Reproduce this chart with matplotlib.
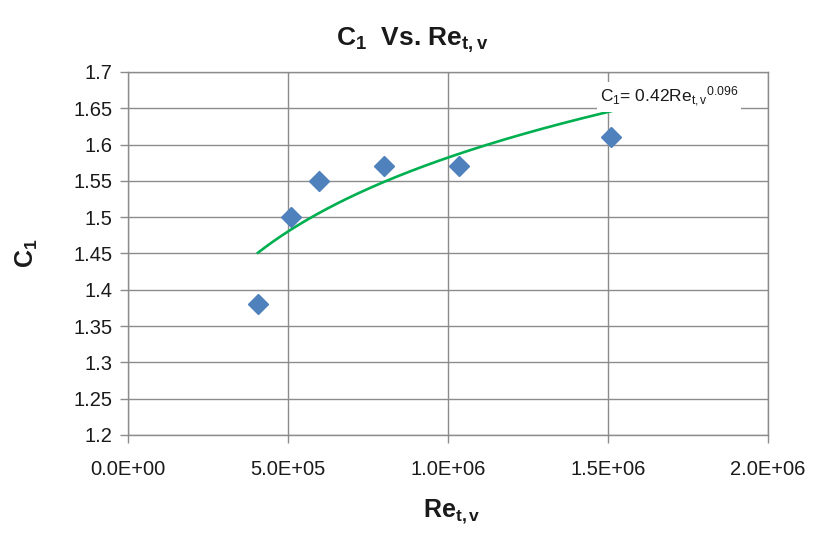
import numpy as np
import matplotlib
matplotlib.use("Agg")
import matplotlib.pyplot as plt

re_tv = [4.06e5, 5.1e5, 5.97e5, 8.0e5, 1.034e6, 1.51e6]
c1 = [1.38, 1.50, 1.55, 1.57, 1.57, 1.61]
x_ticks = [0, 5e5, 1e6, 1.5e6, 2e6]
x_tick_labels = ["0.0E+00", "5.0E+05", "1.0E+06", "1.5E+06", "2.0E+06"]
y_ticks = [1.2, 1.25, 1.3, 1.35, 1.4, 1.45, 1.5, 1.55, 1.6, 1.65, 1.7]
y_tick_labels = ["1.2", "1.25", "1.3", "1.35", "1.4", "1.45", "1.5", "1.55", "1.6", "1.65", "1.7"]
trend_a = 0.42
trend_b = 0.096

plt.rcParams['font.family'] = ['Liberation Sans', 'DejaVu Sans']
plt.rcParams['mathtext.fontset'] = 'custom'
plt.rcParams['mathtext.rm'] = 'Liberation Sans'
plt.rcParams['mathtext.it'] = 'Liberation Sans'
plt.rcParams['mathtext.bf'] = 'Liberation Sans:bold'

fig = plt.figure(figsize=(8.18, 5.37), dpi=100)
ax = fig.add_axes([128/818, 1-435/537, 640/818, 363/537])

grid_c = '#8c8c8c'
ax.set_xlim(0, 2e6)
ax.set_ylim(1.2, 1.7)
ax.set_xticks(x_ticks)
ax.set_xticklabels(x_tick_labels)
ax.set_yticks(y_ticks)
ax.set_yticklabels(y_tick_labels)
ax.grid(True, color=grid_c, linewidth=1.0)
ax.set_axisbelow(True)
for s in ax.spines.values():
    s.set_color(grid_c)
    s.set_linewidth(1.0)
ax.tick_params(axis='both', colors=grid_c, labelcolor='#1a1a1a', labelsize=14.5,
               length=6, width=1.0, direction='out')
ax.tick_params(axis='x', pad=12)
ax.tick_params(axis='y', pad=5)

xs = np.linspace(min(re_tv), max(re_tv), 200)
ax.plot(xs, trend_a * xs ** trend_b, color='#00B050', linewidth=1.9, zorder=3)
ax.plot(re_tv, c1, linestyle='none', marker='D', markersize=10,
        color='#4F81BD', markeredgecolor='#4F81BD', zorder=4)

ax.text(1.475e6, 1.6655, r'C$_1$= 0.42Re$_{t,v}$$^{0.096}$', fontsize=12.5,
        color='#1a1a1a', ha='left', va='center', zorder=5,
        bbox=dict(facecolor='white', edgecolor='none', pad=2))

fig.text(412/818, 1-40/537, r'C$_\mathbf{1}$  Vs. Re$_\mathbf{t,v}$', fontsize=19,
         fontweight='bold', ha='center', va='center', color='#1a1a1a')
fig.text(27/818, 1-253/537, r'C$_\mathbf{1}$', fontsize=18, fontweight='bold',
         ha='center', va='center', rotation=90, color='#1a1a1a')
fig.text(452/818, 1-512/537, r'Re$_\mathbf{t,v}$', fontsize=18, fontweight='bold',
         ha='center', va='center', color='#1a1a1a')

fig.savefig('out.png', dpi=100)
